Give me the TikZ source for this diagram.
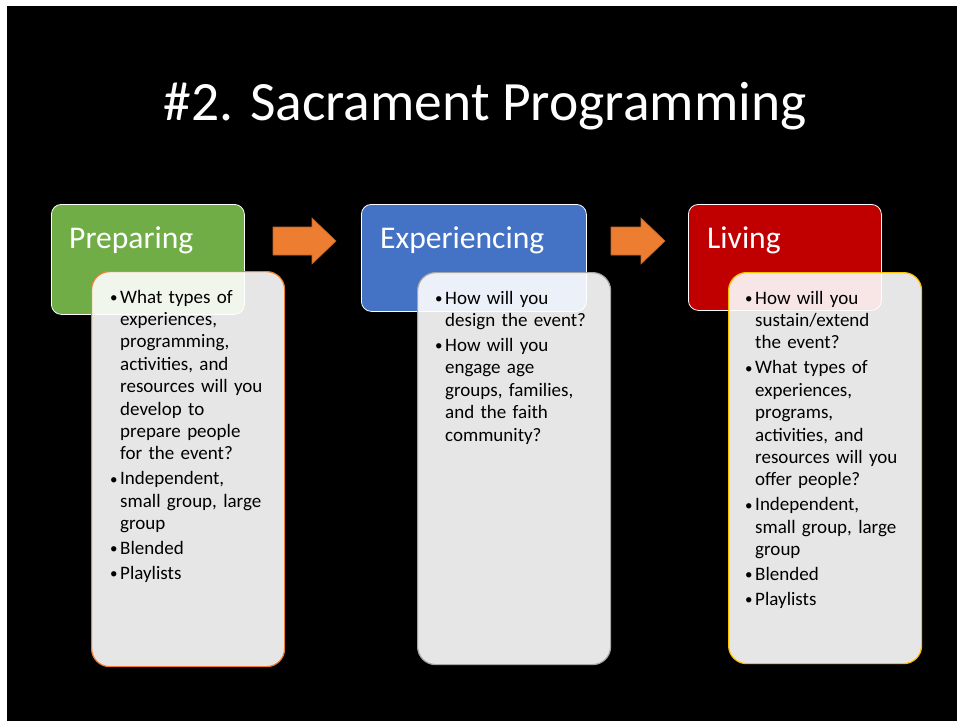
\documentclass[tikz,border=0pt]{standalone}
\usepackage{fontspec}
\setmainfont{Carlito}
\usetikzlibrary{positioning}
\definecolor{prepgreen}{HTML}{70AD47}
\definecolor{expblue}{HTML}{4472C4}
\definecolor{livred}{HTML}{C00000}
\definecolor{arroworange}{HTML}{ED7D31}
\definecolor{edgegray}{HTML}{A5A5A5}
\definecolor{edgegold}{HTML}{FFC000}
\newcommand{\bpoint}[1]{\noindent\hangindent=10pt\hangafter=1\makebox[10pt][l]{\raisebox{0.8pt}{\fontsize{15}{15}\selectfont\textbullet}}#1\par\vspace{2.6pt}}

\begin{document}
\begin{tikzpicture}[x=1pt, y=-1pt]
    \tikzset{
        stage/.style={draw=white, line width=0.8pt, rounded corners=10pt, anchor=north west, inner sep=0pt, minimum width=193pt, minimum height=110pt},
        stagelabel/.style={anchor=base west, inner sep=0pt, text=white, font=\fontsize{31.6}{38}\selectfont},
        detail/.style={fill=white, fill opacity=0.9, line width=1.2pt, rounded corners=18pt, anchor=north west, inner sep=0pt, minimum width=193pt, minimum height=392pt},
        detailtext/.style={anchor=base west, inner sep=0pt, text width=172pt, align=left, text=black, font=\fontsize{19}{22.4}\selectfont},
        procarrow/.style={fill=arroworange, draw=arroworange!80!black, line width=0.6pt}
    }
    \useasboundingbox[fill=white] (0,0) rectangle (957,721);
    \fill[black] (7,6) rectangle (957,721);
    % title
    \node[anchor=base, inner sep=0pt, text=white, font=\fontsize{55.5}{66}\selectfont] (title) at (485,120) {\#2. Sacrament Programming};
    % stage headers
    \node[stage, fill=prepgreen] (prep) at (51,204) {};
    \node[stage, fill=expblue, minimum width=225pt, minimum height=107pt] (exp) at (361,204) {};
    \node[stage, fill=livred, minimum height=106pt] (liv) at (688,204) {};
    \node[stagelabel] (prepname) at ([shift={(18,44)}]prep.north west) {Preparing};
    \node[stagelabel] (expname) at ([shift={(19,44)}]exp.north west) {Experiencing};
    \node[stagelabel] (livname) at ([shift={(19,44)}]liv.north west) {Living};
    % arrows between stages
    \draw[procarrow] (273,227) -- (312,227) -- (312,218) -- (336,241) -- (312,264) -- (312,255) -- (273,255) -- cycle;
    \draw[procarrow] (611,227) -- (641,227) -- (641,218) -- (665,241) -- (641,264) -- (641,255) -- (611,255) -- cycle;
    % detail cards
    \node[detail, draw=arroworange, minimum height=395pt] (prepcard) at (91,271) {};
    \node[detail, draw=edgegray] (expcard) at (417,272) {};
    \node[detail, draw=edgegold, minimum height=391pt] (livcard) at (728,272) {};
    \node[detailtext] (preptext) at ([shift={(19,32)}]prepcard.north west) {%
        \bpoint{What types of\newline experiences,\newline programming,\newline activities, and\newline resources will you\newline develop to\newline prepare people\newline for the event?}
        \bpoint{Independent,\newline small group, large\newline group}
        \bpoint{Blended}
        \bpoint{Playlists}};
    \node[detailtext] (exptext) at ([shift={(18,32)}]expcard.north west) {%
        \bpoint{How will you\newline design the event?}
        \bpoint{How will you\newline engage age\newline groups, families,\newline and the faith\newline community?}};
    \node[detailtext] (livtext) at ([shift={(17,32)}]livcard.north west) {%
        \bpoint{How will you\newline sustain/extend\newline the event?}
        \bpoint{What types of\newline experiences,\newline programs,\newline activities, and\newline resources will you\newline offer people?}
        \bpoint{Independent,\newline small group, large\newline group}
        \bpoint{Blended}
        \bpoint{Playlists}};
\end{tikzpicture}
\end{document}
